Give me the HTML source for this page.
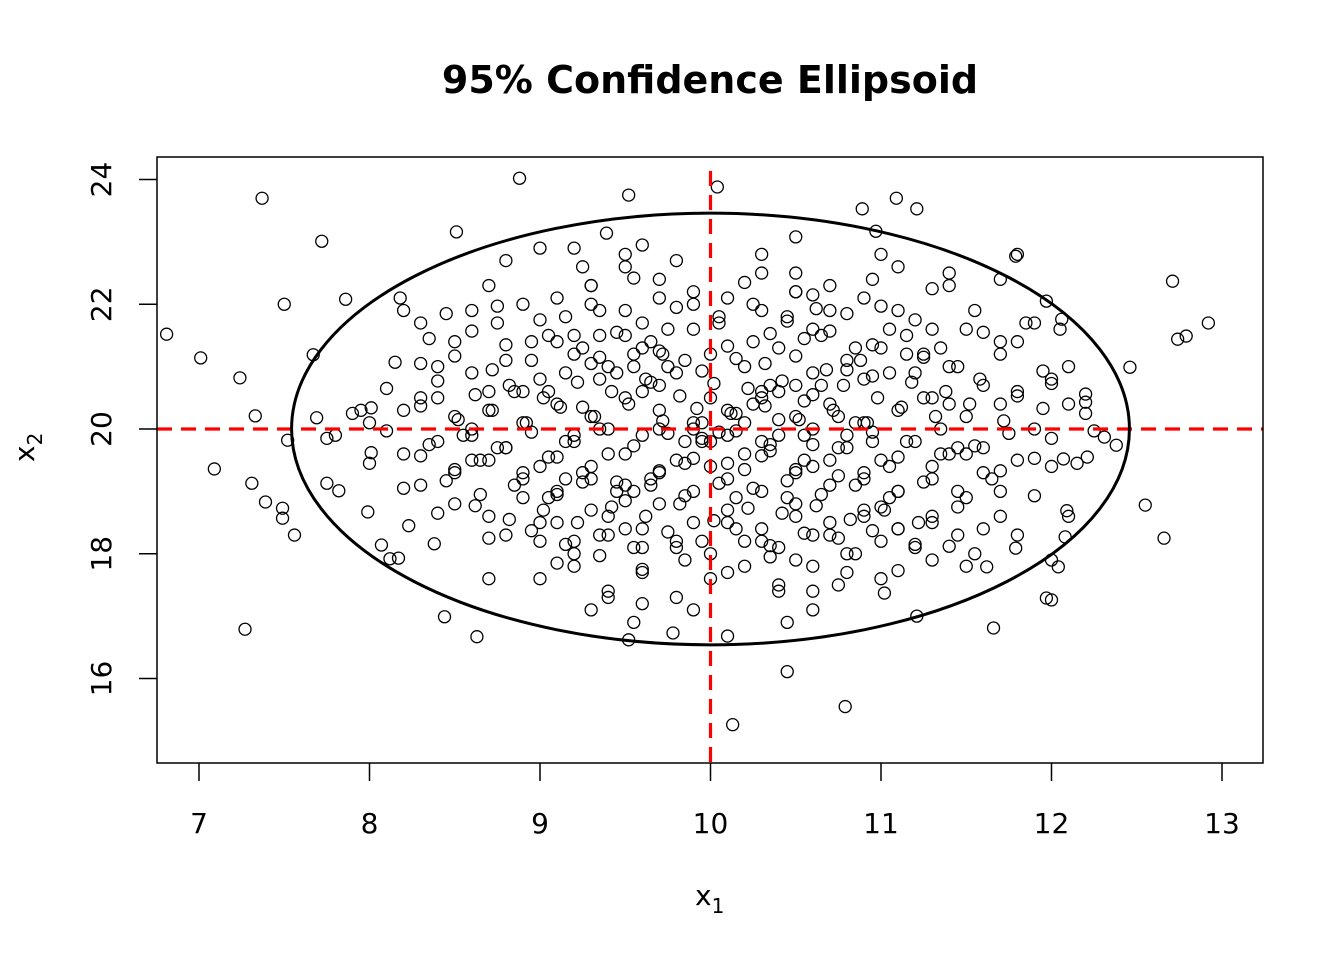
<!DOCTYPE html>
<html><head><meta charset="utf-8">
<style>
html,body{margin:0;padding:0;background:#fff;}
svg{display:block;font-family:"DejaVu Sans","Liberation Sans",sans-serif;}
</style></head>
<body>
<svg id="chart" width="1344" height="960" viewBox="0 0 1344 960">
<text x="710" y="93" text-anchor="middle" font-size="38" font-weight="bold">95% Confidence Ellipsoid</text>
<g id="points"></g>
<g id="ref"></g>
<g id="ell"></g>
<rect x="157" y="157" width="1106" height="606" fill="none" stroke="#000" stroke-width="1.5"/>
<g id="xaxis"></g>
<g id="yaxis"></g>
<text x="695" y="905" font-size="28">x<tspan font-size="20" dy="8">1</tspan></text>
<text transform="translate(34,462) rotate(-90)" font-size="28">x<tspan font-size="20" dy="8">2</tspan></text>
</svg>
<script>
const xTicks=[7,8,9,10,11,12,13];
const yTicks=[16,18,20,22,24];
const center=[10,20];
const semiAxes=[2.457,3.46];
const xs=[6.81,7.01,7.09,7.24,7.37,7.33,7.31,7.39,7.49,7.49,7.56,7.52,7.50,7.27,7.72,7.67,7.69,7.75,7.82,7.86,7.95,8.01,8.01,7.99,8.07,8.12,8.17,8.18,8.15,8.23,8.44,8.38,8.63,8.88,8.51,9.52,10.04,10.13,10.79,10.45,12.46,12.55,12.66,12.71,12.74,12.79,12.92,12.31,12.38,12.21,12.07,12.09,12.08,12.00,12.04,11.97,12.00,11.66,11.79,12.20,12.20,12.06,11.97,11.79,11.09,11.21,10.89,10.97,10.50,9.39,9.52,10.10,9.78,11.21,11.02,11.40,11.55,11.62,
9.2,9.0,9.5,9.6,9.8,10.3,10.5,11.0,11.1,11.4,11.7,11.8,8.8,8.7,
8.2,8.3,8.6,8.9,9.1,9.3,9.5,9.7,9.9,10.1,10.3,10.5,10.7,10.9,11.1,11.3,11.5,11.7,11.9,12.1,11.4,10.6,9.2,8.5,
8.4,8.6,8.8,9.0,9.2,9.4,9.6,9.8,10.0,10.2,10.4,10.6,10.8,11.0,11.2,11.4,11.6,11.8,12.0,9.1,9.5,9.7,10.3,10.5,10.9,8.7,8.3,8.2,12.1,
8.5,8.7,8.9,9.1,9.3,9.5,9.7,9.9,10.1,10.3,10.5,10.7,10.9,11.1,11.3,11.5,11.7,11.9,8.0,
7.8,8.2,8.4,8.6,8.8,9.0,9.2,9.4,9.6,9.8,10.0,10.2,10.4,10.6,10.8,11.0,11.2,11.4,11.6,11.8,12.0,8.3,8.5,8.9,9.1,9.3,9.5,9.7,9.9,10.1,10.3,10.5,10.7,10.9,11.1,11.3,11.5,11.7,
8.5,8.7,8.9,9.1,9.3,9.5,9.7,9.9,10.1,10.3,10.5,10.7,10.9,11.1,11.3,11.6,11.8,12.1,9.0,9.2,9.4,9.6,9.8,10.0,10.2,10.4,10.6,10.8,11.0,11.2,
9.0,9.2,9.4,9.6,9.8,10.0,10.2,10.4,10.6,10.8,11.0,11.3,9.3,9.9,10.5,8.7,11.5,
9.9,10.05,9.95,10.1,9.85,10.2,9.7,10.3,9.4,10.6,10.8,9.2,10.4,9.6,10.0,10.0,
8.6,8.8,9.05,9.25,9.45,9.65,9.85,10.15,10.35,10.55,10.75,10.95,11.15,11.35,8.65,8.85,9.15,9.35,9.55,9.75,9.95,10.25,10.45,10.65,10.85,11.05,11.25,11.45,
8.75,8.95,9.15,9.35,9.55,9.75,10.05,10.25,10.45,10.65,10.85,11.05,11.25,8.8,9.0,9.2,9.4,9.6,9.8,10.1,10.3,10.5,10.7,10.9,11.1,11.3,
9.05,9.25,9.45,9.65,9.85,10.15,10.35,10.55,10.75,10.95,9.1,9.3,9.5,9.7,10.2,10.4,10.6,10.8,11.0,
9.3,9.5,9.7,10.3,10.5,10.7,9.4,9.6,10.4,10.6,9.55,10.45,9.25,10.75,8.9,11.1,8.6,11.4,8.4,11.6];
const ys=[21.52,21.14,19.36,20.82,23.70,20.21,19.13,18.83,18.57,18.73,18.30,19.82,22.00,16.79,23.01,21.19,20.18,19.13,19.01,22.08,20.30,20.34,19.62,18.67,18.14,17.92,17.93,22.10,21.07,18.45,16.99,18.16,16.67,24.02,23.16,23.75,23.88,15.26,15.55,16.11,20.99,18.78,18.25,22.37,21.44,21.49,21.70,19.87,19.74,19.55,19.52,18.69,18.27,17.90,17.79,17.29,17.26,16.81,18.09,20.56,20.43,21.76,22.05,22.77,23.70,23.53,23.53,23.17,23.08,23.14,16.62,16.68,16.73,17.00,17.37,18.12,18.00,17.79,
22.9,22.9,22.8,22.95,22.7,22.8,22.5,22.8,22.6,22.5,22.4,22.8,22.7,22.3,
21.9,21.7,21.9,22.0,22.1,22.0,21.9,22.1,22.0,22.1,21.9,22.2,21.9,22.1,21.9,21.6,21.6,21.4,21.7,21.0,22.3,21.6,21.5,21.4,
21.0,20.9,21.1,20.8,21.2,21.0,21.3,20.9,21.2,21.0,21.3,20.9,21.1,21.3,20.9,21.0,20.7,20.6,20.8,21.4,21.5,20.7,20.6,20.7,20.8,20.6,20.5,20.3,20.4,
20.2,20.3,20.1,20.4,20.2,20.5,20.3,20.1,20.3,20.5,20.2,20.4,20.1,20.3,20.5,20.2,20.4,20.0,20.1,
19.9,19.6,19.8,19.5,19.7,19.4,19.8,19.6,19.9,19.5,19.8,19.6,19.9,19.4,19.7,19.5,19.8,19.6,19.3,19.5,19.4,19.1,19.3,19.2,19.0,19.2,19.1,19.3,19.0,19.2,19.0,19.3,19.1,19.2,19.0,19.2,18.9,19.0,
18.8,18.6,18.9,18.5,18.7,18.4,18.8,18.5,18.7,18.4,18.8,18.5,18.7,18.4,18.6,18.4,18.3,18.6,18.2,18.0,18.3,18.1,18.2,18.0,18.2,18.1,18.3,18.0,18.2,18.1,
17.6,17.8,17.4,17.7,17.3,17.6,17.8,17.5,17.4,17.7,17.6,17.9,17.1,17.1,17.9,17.6,17.8,
20.0,19.95,20.1,19.9,19.8,20.1,20.0,19.8,20.0,20.0,19.9,19.9,20.6,20.6,20.5,19.4,
20.0,19.7,20.6,19.3,20.9,19.1,21.1,18.9,20.7,19.5,20.2,19.8,21.2,19.6,19.5,20.6,19.2,20.8,19.0,21.0,19.8,20.4,18.9,20.7,20.1,19.4,20.5,19.7,
21.7,21.4,21.8,21.5,21.2,21.6,21.7,21.4,21.8,21.5,21.3,21.6,21.2,18.3,18.5,18.2,18.6,18.4,18.1,18.5,18.2,18.6,18.3,18.6,18.4,18.5,
19.55,20.35,19.15,20.75,19.45,20.25,19.65,20.45,19.25,20.85,18.95,21.05,18.85,21.25,19.35,20.15,19.75,20.95,18.75,
22.3,22.6,22.4,22.5,22.2,22.3,17.3,17.2,17.4,17.1,16.9,16.9,22.6,17.5,20.6,19.0,19.9,20.4,20.5,19.7];
const xs2=[8.45,8.75,9.0,9.35,9.6,9.8,10.05,10.25,10.45,10.62,10.8,11.0,11.2,11.55,11.85,
8.35,8.6,8.8,9.05,9.25,9.45,9.65,9.9,10.1,10.35,10.55,10.7,10.95,11.15,11.35,11.6,11.8,12.05,
8.3,8.5,8.72,8.95,9.15,9.35,9.55,9.72,9.95,10.15,10.32,10.5,10.68,10.88,11.05,11.25,11.45,11.7,11.95,
8.1,8.4,8.62,8.82,9.02,9.22,9.42,9.62,9.82,10.02,10.22,10.42,10.6,10.78,10.98,11.18,11.38,11.58,11.8,12.0,
7.9,8.3,8.52,8.72,8.92,9.12,9.32,9.52,9.72,9.92,10.12,10.32,10.52,10.72,10.92,11.12,11.32,11.52,11.72,11.95,12.2,
7.75,8.1,8.35,8.55,8.75,8.95,9.15,9.35,9.55,9.75,9.95,10.15,10.35,10.55,10.75,10.95,11.15,11.35,11.55,11.75,12.0,12.25,
8.0,8.3,8.5,8.7,8.9,9.1,9.3,9.5,9.7,9.9,10.1,10.3,10.5,10.7,10.9,11.1,11.3,11.5,11.7,11.9,12.15,
8.2,8.45,8.65,8.85,9.05,9.25,9.45,9.65,9.85,10.05,10.25,10.45,10.65,10.85,11.05,11.25,11.45,11.65,11.9,
8.4,8.62,8.82,9.02,9.22,9.42,9.62,9.82,10.02,10.22,10.42,10.62,10.82,11.02,11.22,11.45,11.7,
8.7,8.95,9.15,9.35,9.55,9.75,9.95,10.15,10.35,10.55,10.75,10.95,11.2,11.45,
9.1,9.35,9.6,9.85,10.1,10.35,10.6,10.85,11.1,
9.3,9.55,9.9,10.2,10.6,10.95,11.3];
const ys2=[21.85,21.97,21.75,21.9,21.7,21.95,21.8,22.0,21.73,21.93,21.85,21.97,21.75,21.9,21.7,
21.45,21.57,21.35,21.5,21.3,21.55,21.4,21.6,21.33,21.53,21.45,21.57,21.35,21.5,21.3,21.55,21.4,21.6,
21.05,21.17,20.95,21.1,20.9,21.15,21.0,21.2,20.93,21.13,21.05,21.17,20.95,21.1,20.9,21.15,21.0,21.2,20.93,
20.65,20.77,20.55,20.7,20.5,20.75,20.6,20.8,20.53,20.73,20.65,20.77,20.55,20.7,20.5,20.75,20.6,20.8,20.53,20.73,
20.25,20.37,20.15,20.3,20.1,20.35,20.2,20.4,20.13,20.33,20.25,20.37,20.15,20.3,20.1,20.35,20.2,20.4,20.13,20.33,20.25,
19.85,19.97,19.75,19.9,19.7,19.95,19.8,20.0,19.73,19.93,19.85,19.97,19.75,19.9,19.7,19.95,19.8,20.0,19.73,19.93,19.85,19.97,
19.45,19.57,19.35,19.5,19.3,19.55,19.4,19.6,19.33,19.53,19.45,19.57,19.35,19.5,19.3,19.55,19.4,19.6,19.33,19.53,19.45,
19.05,19.17,18.95,19.1,18.9,19.15,19.0,19.2,18.93,19.13,19.05,19.17,18.95,19.1,18.9,19.15,19.0,19.2,18.93,
18.65,18.77,18.55,18.7,18.5,18.75,18.6,18.8,18.53,18.73,18.65,18.77,18.55,18.7,18.5,18.75,18.6,
18.25,18.37,18.15,18.3,18.1,18.35,18.2,18.4,18.13,18.33,18.25,18.37,18.15,18.3,
17.85,17.97,17.75,17.9,17.7,17.95,17.8,18.0,17.73,
22.3,22.42,22.2,22.35,22.15,22.4,22.25];
const allX=xs.concat(xs2), allY=ys.concat(ys2);
const X0=157,X1=1263,Y0=157,Y1=763;
function sx(v){return 199+(v-7)*(1222-199)/6;}
function sy(v){return 429-(v-20)*(679-180)/8;}
const NS="http://www.w3.org/2000/svg";
function mk(tag,attrs,parent){const e=document.createElementNS(NS,tag);for(const k in attrs)e.setAttribute(k,attrs[k]);parent.appendChild(e);return e;}
const pg=document.getElementById('points');
for(let i=0;i<allX.length;i++){
 const c=mk('circle',{cx:sx(allX[i]),cy:sy(allY[i]),r:6,fill:'none',stroke:'#000','stroke-width':1.3},pg);
 
 
}
const rg=document.getElementById('ref');
const vl=mk('line',{x1:sx(center[0]),x2:sx(center[0]),y1:Y0+14,y2:Y1,stroke:'#ff0000','stroke-width':3.2,'stroke-dasharray':'15 9'},rg);


const hl=mk('line',{x1:X0,x2:X1,y1:sy(center[1]),y2:sy(center[1]),stroke:'#ff0000','stroke-width':3.2,'stroke-dasharray':'15 9'},rg);


const eg=document.getElementById('ell');
const el=mk('ellipse',{cx:sx(center[0]),cy:sy(center[1]),rx:sx(center[0]+semiAxes[0])-sx(center[0]),ry:sy(center[1])-sy(center[1]+semiAxes[1]),fill:'none',stroke:'#000','stroke-width':3},eg);


const xg=document.getElementById('xaxis');
for(const t of xTicks){
 const l=mk('line',{x1:sx(t),x2:sx(t),y1:Y1,y2:Y1+18,stroke:'#000','stroke-width':1.5},xg);
 
 
 const tx=mk('text',{x:sx(t),y:833,'text-anchor':'middle','font-size':28},xg);
 tx.textContent=t;
 
 
}
const yg=document.getElementById('yaxis');
for(const t of yTicks){
 const l=mk('line',{x1:X0-18,x2:X0,y1:sy(t),y2:sy(t),stroke:'#000','stroke-width':1.5},yg);
 
 
 const tx=mk('text',{transform:'translate(111,'+sy(t)+') rotate(-90)','text-anchor':'middle','font-size':28},yg);
 tx.textContent=t;
 
 
}
</script>
</body></html>
